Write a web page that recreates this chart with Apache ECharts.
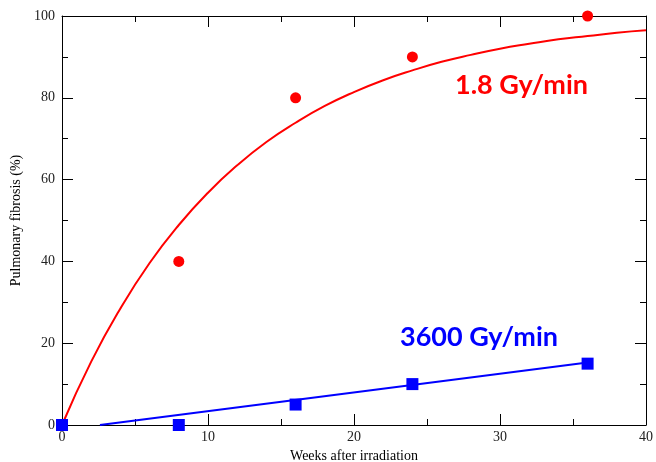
<!DOCTYPE html>
<html>
	<head>
		<meta charset="utf-8">
		<script src="https://cdn.jsdelivr.net/npm/echarts@6/dist/echarts.min.js"></script>
		<title>Pulmonary fibrosis</title>
	</head>
	<body>
		<style>
			html,
			body,
			#main {
				width: 100%;
				height: 100%;
				margin: 0;
				background: #fff;
			}
		</style>
		<div id="main"></div>
		<script type="text/javascript">
			// 数据点 (weeks, %)
			var weeks = [0, 8, 16, 24, 36];
			var lowRate = [0, 40, 80, 90, 100];      // 1.8 Gy/min
			var highRate = [0, 0, 5, 10, 15];        // 3600 Gy/min

			// 拟合曲线
			var fitLowX = [0, 2, 4, 6, 8, 10, 12, 14, 16, 18, 20, 22, 24, 26, 28, 30, 32, 34, 36, 38, 40];
			var fitLowY = [0, 15.5, 28.5, 39.6, 48.9, 56.8, 63.5, 69.2, 73.9, 78, 81.4, 84.3, 86.7, 88.8, 90.5, 92, 93.2, 94.3, 95.1, 95.9, 96.5];
			var fitHighX = [2.6, 36];
			var fitHighY = [0, 15.3];

			var xTicks = [0, 10, 20, 30, 40];
			var yTicks = [0, 20, 40, 60, 80, 100];

			function pairs(xs, ys) {
				var out = [];
				for (var i = 0; i < xs.length; i++) {
					out.push([xs[i], ys[i]]);
				}
				return out;
			}

			var myChart = echarts.init(document.getElementById('main'));
			var serif = 'Liberation Serif';
			var tickStyle = {
				axisLine: { show: true, onZero: false, lineStyle: { color: '#000', width: 1 } },
				axisTick: { show: true, inside: true, length: 11, lineStyle: { color: '#000' } },
				minorTick: { show: true, splitNumber: 2, length: 6, lineStyle: { color: '#000' } },
				splitLine: { show: false }
			};

			var option = {
				animation: false,
				grid: { left: 62, right: 10, top: 16, bottom: 37, outerBoundsMode: 'none', containLabel: false },
				xAxis: [
					Object.assign({
						type: 'value', min: xTicks[0], max: xTicks[xTicks.length - 1], interval: 10,
						name: 'Weeks after irradiation', nameLocation: 'middle', nameGap: 19,
						nameTextStyle: { fontFamily: serif, fontSize: 14, color: '#000' },
						axisLabel: { fontFamily: serif, fontSize: 14, color: '#222', margin: 5 }
					}, tickStyle),
					Object.assign({
						type: 'value', position: 'top', min: 0, max: 40, interval: 10,
						axisLabel: { show: false }
					}, tickStyle)
				],
				yAxis: [
					Object.assign({
						type: 'value', min: yTicks[0], max: yTicks[yTicks.length - 1], interval: 20,
						name: 'Pulmonary fibrosis (%)', nameLocation: 'middle', nameGap: 38,
						nameTextStyle: { fontFamily: serif, fontSize: 14, color: '#000' },
						axisLabel: { fontFamily: serif, fontSize: 14, color: '#222', margin: 7 }
					}, tickStyle),
					Object.assign({
						type: 'value', position: 'right', min: 0, max: 100, interval: 20,
						axisLabel: { show: false }
					}, tickStyle)
				],
				graphic: [
					{
						type: 'text', left: 455, top: 72,
						style: { text: '1.8 Gy/min', fill: '#ff0000', font: 'bold 27px Lato' }
					},
					{
						type: 'text', left: 400, top: 324,
						style: { text: '3600 Gy/min', fill: '#0000ff', font: 'bold 27px Lato' }
					}
				],
				series: [
					{
						type: 'line', data: pairs(fitLowX, fitLowY), smooth: true,
						symbol: 'none', lineStyle: { color: '#ff0000', width: 2 }, z: 2
					},
					{
						type: 'line', data: pairs(fitHighX, fitHighY),
						symbol: 'none', lineStyle: { color: '#0000ff', width: 2 }, z: 2
					},
					{
						type: 'scatter', data: pairs(weeks, lowRate), symbol: 'circle', symbolSize: 11,
						itemStyle: { color: '#ff0000', opacity: 1 }, z: 3
					},
					{
						type: 'scatter', data: pairs(weeks, highRate), symbol: 'rect', symbolSize: 12,
						itemStyle: { color: '#0000ff', opacity: 1 }, z: 4
					}
				]
			};

			myChart.setOption(option);

			window.onresize = function() {
				myChart.resize();
			}
		</script>
	</body>
</html>
